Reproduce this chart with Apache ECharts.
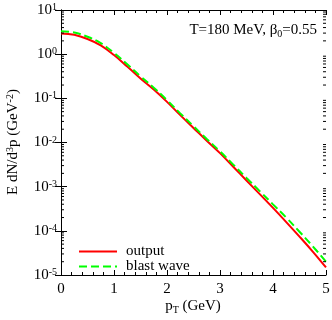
<!DOCTYPE html>
<html><head><meta charset="utf-8">
<script src="https://cdn.jsdelivr.net/npm/echarts@6/dist/echarts.min.js"></script>
<style>html,body{margin:0;padding:0;background:#fff}#c{width:332px;height:320px}</style>
</head><body><div id="c"></div>
<script>
// ---- data ----
const pT = [0, 0.25, 0.5, 0.75, 1.0, 1.25, 1.5, 1.75, 2.0, 2.25, 2.5, 2.75, 3.0, 3.25, 3.5, 3.75, 4.0, 4.25, 4.5, 4.75, 5.0];
const outputVals = [2.95, 2.75, 2.21, 1.585, 0.955, 0.525, 0.282, 0.158, 0.0832, 0.0417, 0.0214, 0.011, 0.00575, 0.00282, 0.00138, 0.000676, 0.000331, 0.000158, 7.41e-5, 3.39e-5, 1.48e-5];
const blastVals = [3.31, 3.09, 2.48, 1.78, 1.07, 0.589, 0.316, 0.174, 0.0912, 0.0457, 0.0234, 0.012, 0.00631, 0.00316, 0.00158, 0.000794, 0.000398, 0.0002, 9.55e-5, 4.47e-5, 2.0e-5];
const seriesNames = ['output', 'blast wave'];
const xTickLabels = ['0', '1', '2', '3', '4', '5'];
const yDecades = [-5, -4, -3, -2, -1, 0, 1];

const FONT = 'Liberation Serif';
const minorVals = [];
for (let n = yDecades[0]; n < yDecades[yDecades.length - 1]; n++) {
  for (let k = 2; k <= 9; k++) minorVals.push(k * Math.pow(10, n));
}

const rich = {
  b: { fontSize: 15, fontFamily: FONT, color: '#000' },
  s: { fontSize: 10, fontFamily: FONT, color: '#000', verticalAlign: 'top' },
  tb: { fontSize: 15, fontFamily: FONT, color: '#000', verticalAlign: 'top', lineHeight: 16 },
  sub: { fontSize: 10, fontFamily: FONT, color: '#000', verticalAlign: 'bottom', lineHeight: 10, padding: [9, 0, 0, 0] }
};
function yLab(v) {
  const l = Math.log10(v), n = Math.round(l);
  if (Math.abs(l - n) > 1e-6) return '';
  return '{b|10}{s|' + n + '}';
}

const chart = echarts.init(document.getElementById('c'));
const axisLine = { show: true, lineStyle: { color: '#000', width: 1 } };
chart.setOption({
  animation: false,
  backgroundColor: '#fff',
  grid: { left: 61, right: 6, top: 10, bottom: 45, containLabel: false, outerBoundsMode: 'none' },
  legend: {
    data: seriesNames,
    orient: 'vertical',
    left: 73, top: 239,
    itemWidth: 38, itemHeight: 14, itemGap: 0,
    itemStyle: { opacity: 0 },
    textStyle: { fontFamily: FONT, fontSize: 15, color: '#000', padding: [0, 0, 0, 4] },
    selectedMode: false
  },
  xAxis: [{
    type: 'value', min: 0, max: 5, interval: 1, position: 'bottom',
    axisLine,
    axisTick: { inside: true, length: 5, lineStyle: { color: '#000' } },
    minorTick: { show: true, splitNumber: 5, length: 3, lineStyle: { color: '#000' } },
    splitLine: { show: false },
    axisLabel: { margin: 7, fontFamily: FONT, fontSize: 15, color: '#000', formatter: v => xTickLabels[Math.round(v)] }
  }, {
    type: 'value', min: 0, max: 5, interval: 1, position: 'top',
    axisLine,
    axisTick: { inside: true, length: 5, lineStyle: { color: '#000' } },
    minorTick: { show: true, splitNumber: 5, length: 3, lineStyle: { color: '#000' } },
    splitLine: { show: false },
    axisLabel: { show: false }
  }],
  yAxis: [{
    type: 'log', min: Math.pow(10, yDecades[0]), max: Math.pow(10, yDecades[yDecades.length - 1]), position: 'left',
    axisLine,
    axisTick: { inside: true, length: 6, lineStyle: { color: '#000' } },
    splitLine: { show: false },
    axisLabel: { margin: 4, formatter: yLab, rich }
  }, {
    type: 'log', min: Math.pow(10, yDecades[0]), max: Math.pow(10, yDecades[yDecades.length - 1]), position: 'right',
    axisLine,
    axisTick: { inside: true, length: 6, lineStyle: { color: '#000' } },
    splitLine: { show: false },
    axisLabel: { show: false }
  }],
  series: [{
    name: seriesNames[0], type: 'line', xAxisIndex: 0, yAxisIndex: 0,
    data: pT.map((x, i) => [x, outputVals[i]]),
    symbol: 'none', smooth: 0.4,
    lineStyle: { color: '#ff0000', width: 2 }, itemStyle: { color: '#ff0000' }, z: 3
  }, {
    name: seriesNames[1], type: 'line', xAxisIndex: 0, yAxisIndex: 0,
    data: pT.map((x, i) => [x, blastVals[i]]),
    symbol: 'none', smooth: 0.4,
    lineStyle: { color: '#00ff00', width: 2, type: [8, 4] }, itemStyle: { color: '#00ff00' }, z: 4
  }, {
    type: 'custom', xAxisIndex: 0, yAxisIndex: 0, silent: true, clip: false, z: 5,
    data: minorVals.map(v => [v]),
    renderItem: function (params, api) {
      const v = api.value(0);
      const pl = api.coord([0, v]);
      const pr = api.coord([5, v]);
      return {
        type: 'group', children: [
          { type: 'line', shape: { x1: pl[0], y1: pl[1], x2: pl[0] + 3, y2: pl[1] }, style: { stroke: '#000', lineWidth: 1 } },
          { type: 'line', shape: { x1: pr[0], y1: pr[1], x2: pr[0] - 3, y2: pr[1] }, style: { stroke: '#000', lineWidth: 1 } }
        ]
      };
    }
  }],
  graphic: [{
    type: 'text', x: 193, y: 307,
    style: { text: '{tb|p}{sub|T}{tb| (GeV)}', rich, textAlign: 'center', textVerticalAlign: 'middle' }
  }, {
    type: 'text', x: 13, y: 142, rotation: Math.PI / 2,
    style: { text: '{b|E dN/d}{s|3}{b|p (GeV}{s|-2}{b|)}', rich, textAlign: 'center', textVerticalAlign: 'middle' }
  }, {
    type: 'text', x: 317, y: 31,
    style: { text: '{tb|T=180 MeV, β}{sub|0}{tb|=0.55}', rich, textAlign: 'right', textVerticalAlign: 'middle' }
  }]
});
</script>
</body></html>
